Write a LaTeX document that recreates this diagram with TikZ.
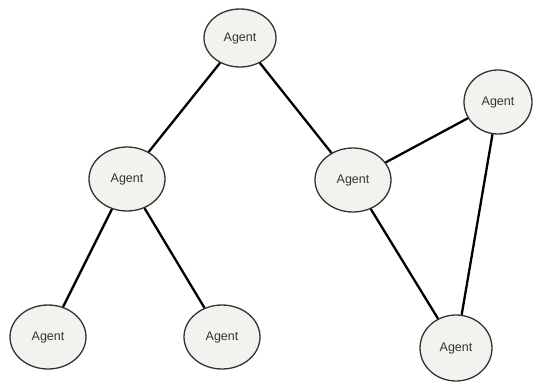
\documentclass[tikz,border=0pt]{standalone}
\usepackage{fontspec}
\setmainfont{Liberation Sans}
\usetikzlibrary{shapes}
\definecolor{agentfill}{HTML}{F2F2EE}
\definecolor{agentline}{HTML}{333333}
\tikzstyle{agent} = [ellipse, draw=agentline, line width=1.3pt, fill=agentfill, inner sep=0pt, minimum width=76pt, minimum height=64pt, font=\fontsize{12.5}{14}\selectfont, text=black!80]
\tikzstyle{line} = [draw, line width=2.3pt]

\begin{document}
\begin{tikzpicture}[x=1pt, y=-1pt]
			\useasboundingbox (0,0) rectangle (533,383);
			\node [agent, minimum width=72pt, minimum height=58pt] (root) at (240, 38) {Agent};
			\node [agent] (left) at (127, 179) {Agent};
			\node [agent] (mid) at (353, 180) {Agent};
			\node [agent, minimum width=68pt] (right) at (498, 102) {Agent};
			\node [agent] (leftA) at (48, 337) {Agent};
			\node [agent] (leftB) at (222, 337) {Agent};
			\node [agent, minimum width=72pt, minimum height=66pt] (low) at (456, 348) {Agent};
			
			\path [line] (root) -- (left);
			\path [line] (root) -- (mid);
			\path [line] (left) -- (leftA);
			\path [line] (left) -- (leftB);
			\path [line] (mid) -- (right);
			\path [line] (mid) -- (low);
			\path [line] (right) -- (low);
		\end{tikzpicture}
\end{document}
